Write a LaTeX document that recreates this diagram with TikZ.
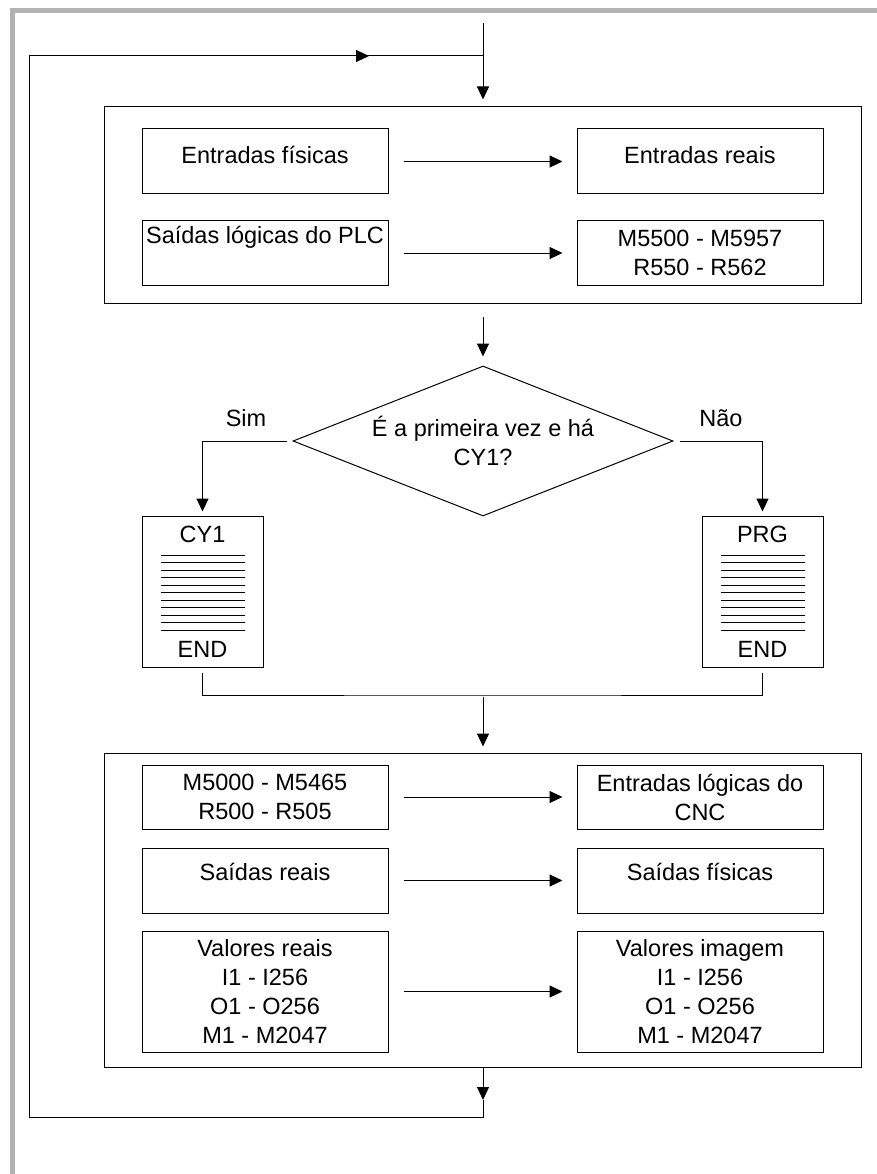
\documentclass[tikz,border=0pt]{standalone}
\usepackage{fontspec}
\setmainfont{Liberation Sans}
\usetikzlibrary{positioning,arrows.meta,shapes.geometric}

\tikzset{
  blk/.style={rectangle, draw, minimum width=246pt, inner sep=2pt, align=center},
  stage/.style={rectangle, draw, minimum width=757pt, inner sep=0pt},
  prog/.style={rectangle, draw, minimum width=121pt, minimum height=151pt, inner sep=0pt, align=center},
  flow/.style={-{Triangle[length=13pt,width=12pt]}},
  gap/.style={shorten <=15pt, shorten >=14pt},
}

\begin{document}
\begin{tikzpicture}[x=1pt, y=-1pt, line width=1pt, font=\fontsize{23.5}{29}\selectfont]
\useasboundingbox (0,0) rectangle (877,1174);
% page edge
\draw[black!30, line width=4.5pt] (12.5,1174) -- (12.5,10.5) -- (877,10.5);

% first block
\node[stage, minimum height=196pt] (scan) at (483,205) {};
\node[blk, minimum height=65pt, text height=17pt, text depth=13pt] (fis) at (265,161.5) {Entradas físicas};
\node[blk, minimum height=65pt, text height=17pt, text depth=13pt] (rea) at (700,161.5) {Entradas reais};
\node[blk, minimum height=64pt, text height=17pt, text depth=36pt] (plc) at (265,253) {Saídas lógicas do PLC};
\node[blk, minimum height=64pt] (mplc) at (700,253) {M5500 - M5957\\R550 - R562};

% decision
\node[diamond, draw, aspect=2.53, minimum width=380pt, minimum height=150pt, inner sep=0pt, align=center] (first) at (483,441) {É a primeira vez e há\\CY1?};
\node (sim) at (246,418) {Sim};
\node (nao) at (721,418) {Não};

% programs
\node[prog] (cy) at (202.5,591.5) {CY1\\[86pt]END};
\node[prog] (prg) at (762.5,591.5) {PRG\\[86pt]END};
\foreach \n in {cy,prg}
  \foreach \i in {0,...,10}
    \draw[line width=0.9pt] ([shift={(-42,-36.5+7.5*\i)}]\n.center) -- ++(84,0);

% second block
\node[stage, minimum height=314pt] (io) at (483,910) {};
\node[blk, minimum height=64pt] (mcnc) at (265,797) {M5000 - M5465\\R500 - R505};
\node[blk, minimum height=64pt] (cnc) at (700,797) {Entradas lógicas do\\CNC};
\node[blk, minimum height=65pt, text height=17pt, text depth=17pt] (sr) at (265,880.5) {Saídas reais};
\node[blk, minimum height=65pt, text height=17pt, text depth=17pt] (sf) at (700,880.5) {Saídas físicas};
\node[blk, minimum height=121pt] (vr) at (265,991.5) {Valores reais\\I1 - I256\\O1 - O256\\M1 - M2047};
\node[blk, minimum height=121pt] (vi) at (700,991.5) {Valores imagem\\I1 - I256\\O1 - O256\\M1 - M2047};

\foreach \a/\b in {fis/rea, plc/mplc, mcnc/cnc, sr/sf, vr/vi}
  \draw[flow, gap] (\a) -- (\b);

% main flow
\coordinate (entry) at (483,23);
\draw[flow, shorten >=7pt] (entry) -- (scan.north);
\draw[flow, shorten <=13pt, shorten >=9pt] (scan.south) -- (first.north);
\draw[flow, shorten <=6pt, shorten >=4pt] (first.west) -| (cy.north);
\draw[flow, shorten <=6pt, shorten >=4pt] (first.east) -| (prg.north);
\coordinate (join) at (483,695);
\draw[shorten <=5pt, shorten >=5pt] (cy.south) |- (join) -| (prg.south);
\draw[flow, shorten <=2pt, shorten >=6pt] (join) -- (io.north);

% loop back
\coordinate (turn) at (483,1100);
\coordinate (back) at (483,1117);
\coordinate (cornerB) at (29,1117);
\coordinate (cornerT) at (29,56);
\coordinate (mid) at (369,56);
\coordinate (top) at (483,56);
\draw[flow] (io.south) -- (turn);
\draw (turn) -- (back) -- (cornerB) -- (cornerT) -- (top);
\draw[flow] (cornerT) -- (mid);
\end{tikzpicture}
\end{document}
